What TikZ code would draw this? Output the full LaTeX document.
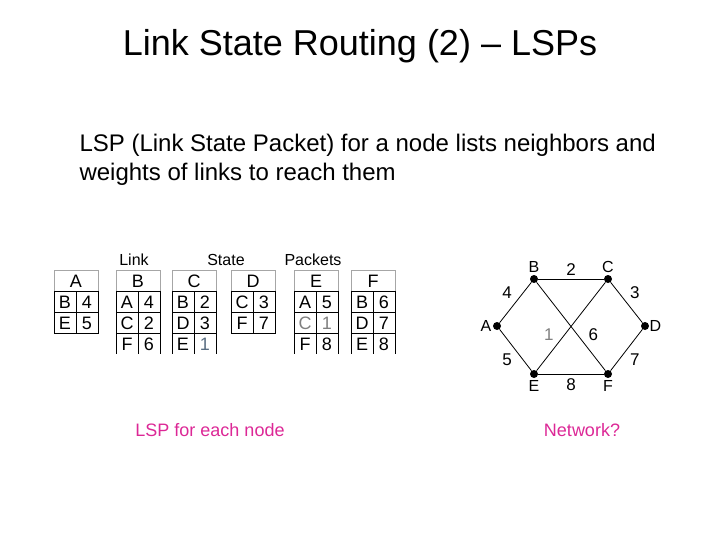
\documentclass[tikz,border=0pt]{standalone}
\usepackage{fontspec}
\setmainfont{Liberation Sans}
\usetikzlibrary{positioning}
\definecolor{pinktext}{RGB}{220,40,150}
\definecolor{faint}{RGB}{90,110,130}
\tikzset{
  cell/.style={font=\fontsize{18}{18}\selectfont},
  vertex/.style={circle, fill=black, inner sep=0pt, minimum size=8pt},
  vlabel/.style={font=\fontsize{16}{16}\selectfont},
  wlabel/.style={font=\fontsize{17}{17}\selectfont}
}
% table: left x, name, list of rows {n/w}, number of closed rows
\newcommand{\lsptable}[4]{%
  \draw[gray!70] (#1,270) rectangle ++(44,21);
  \node[cell] at (#1+22,281) {#2};
  \foreach \n/\w [count=\i] in {#3} {
    \node[cell] at (#1+11,281+21*\i) {\n};
    \node[cell] at (#1+33,281+21*\i) {\w};
  }
  \foreach \i in {1,...,#4} {\draw[line width=0.8pt] (#1,270+21*\i) rectangle ++(44,21);}
  \draw[line width=0.8pt] (#1+22,291) -- (#1+22,291+21*#4);
}
\begin{document}
\begin{tikzpicture}[x=1pt,y=-1pt]
  \useasboundingbox (0,0) rectangle (720,540);
  \node (title) at (360,46) {\fontsize{36}{36}\selectfont Link State Routing (2) -- LSPs};
  \node[anchor=west, align=left, font=\fontsize{24}{29}\selectfont] (intro) at (76,160)
    {LSP (Link State Packet) for a node lists neighbors and\\weights of links to reach them};
  % labels above tables
  \node[font=\fontsize{16}{16}\selectfont] (link) at (134,260) {Link};
  \node[font=\fontsize{16}{16}\selectfont] (state) at (226,260) {State};
  \node[font=\fontsize{16}{16}\selectfont] (packets) at (313,260) {Packets};
  % tables
  \lsptable{54}{A}{B/4,E/5}{2}
  \lsptable{116}{B}{A/4,C/2,F/6}{2}
  \lsptable{172}{C}{B/2,D/3,E/\textcolor{faint}{1}}{2}
  \lsptable{231}{D}{C/3,F/7}{2}
  \lsptable{294}{E}{A/5,\textcolor{gray}{C}/\textcolor{gray}{1},F/8}{2}
  \lsptable{351}{F}{B/6,D/7,E/8}{2}
  \foreach \x in {116,138,160,172,194,216,294,316,338,351,373,395}
    \draw[line width=0.8pt] (\x,333) -- (\x,354);
  % network
  \node[vertex] (A) at (497,326) {};
  \node[vertex] (B) at (534,279) {};
  \node[vertex] (C) at (608,279) {};
  \node[vertex] (D) at (645,326) {};
  \node[vertex] (E) at (534,374) {};
  \node[vertex] (F) at (608,374) {};
  \node[vlabel, left=-2pt of A] {A};
  \node[vlabel, above=-1pt of B] {B};
  \node[vlabel, above=-1pt of C] {C};
  \node[vlabel, right=-3pt of D] {D};
  \node[vlabel, below=-1pt of E] {E};
  \node[vlabel, below=-1pt of F] {F};
  \begin{scope}[line width=0.8pt]
  \draw (A) -- node[wlabel, above left] {4} (B);
  \draw (B) -- node[wlabel, above] {2} (C);
  \draw (C) -- node[wlabel, above right] {3} (D);
  \draw (D) -- node[wlabel, below right] {7} (F);
  \draw (E) -- node[wlabel, below=1pt] {8} (F);
  \draw (A) -- node[wlabel, below left] {5} (E);
  \draw (E) -- node[wlabel, pos=0.3, above left, text=gray] {1} (C);
  \draw (B) -- node[wlabel, pos=0.7, above right] {6} (F);
  \end{scope}
  % captions
  \node[text=pinktext, font=\fontsize{18}{18}\selectfont] (cap1) at (210,430) {LSP for each node};
  \node[text=pinktext, font=\fontsize{18}{18}\selectfont] (cap2) at (582,430) {Network?};
\end{tikzpicture}
\end{document}
